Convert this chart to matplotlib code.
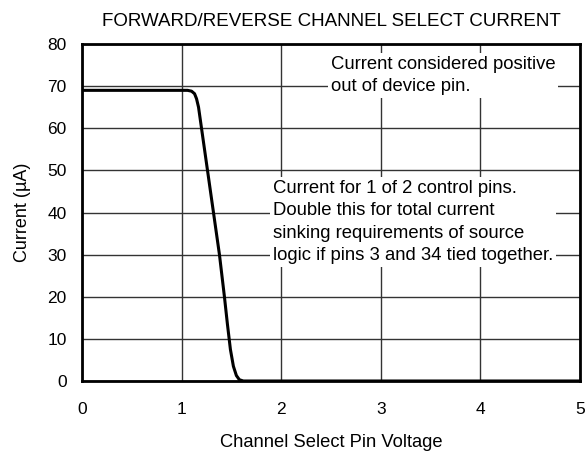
import matplotlib
matplotlib.use("Agg")
import matplotlib.pyplot as plt

# channel select pin voltage (V) vs current (uA)
voltage = [0, 1.0, 1.06, 1.1, 1.13, 1.15, 1.17, 1.2, 1.26, 1.32, 1.38, 1.43,
           1.46, 1.49, 1.52, 1.55, 1.58, 1.62, 5]
current = [69, 69, 69, 68.8, 68.2, 67, 65, 60, 50, 40, 30, 20,
           13.5, 7.5, 3.5, 1.3, 0.3, 0, 0]

x_ticks = [0, 1, 2, 3, 4, 5]
y_ticks = [0, 10, 20, 30, 40, 50, 60, 70, 80]

note_top = "Current considered positive\nout of device pin."
note_mid = ("Current for 1 of 2 control pins.\nDouble this for total current\n"
            "sinking requirements of source\nlogic if pins 3 and 34 tied together.")

plt.rcParams['font.family'] = ['Liberation Sans', 'DejaVu Sans']

fig = plt.figure(figsize=(5.85, 4.51), dpi=100)
ax = fig.add_axes([82 / 585, 1 - 381 / 451, 498 / 585, 337 / 451])

ax.plot(voltage, current, color='black', lw=2.2, solid_joinstyle='round',
        solid_capstyle='round', zorder=3)

ax.set_xlim(0, 5)
ax.set_ylim(0, 80)
ax.set_xticks(x_ticks)
ax.set_yticks(y_ticks)
ax.grid(True, color='#333333', lw=1)
ax.tick_params(length=0, labelsize=12.5)
ax.tick_params(axis='x', pad=15)
ax.tick_params(axis='y', pad=11)
for s in ax.spines.values():
    s.set_linewidth(2)

ax.text(2.5, 77.2, note_top, fontsize=13.3, va='top', ha='left', linespacing=1.42,
        bbox=dict(facecolor='white', edgecolor='none', pad=2), zorder=4)
ax.text(1.92, 47.8, note_mid, fontsize=13.3, va='top', ha='left', linespacing=1.42,
        bbox=dict(facecolor='white', edgecolor='none', pad=2), zorder=4)

ax.set_xlabel("Channel Select Pin Voltage", fontsize=13.2, labelpad=12)
ax.set_ylabel("Current (µA)", fontsize=13, labelpad=12)
ax.set_title("FORWARD/REVERSE CHANNEL SELECT CURRENT", fontsize=13.5, pad=13)

fig.savefig("out.png", dpi=100)
